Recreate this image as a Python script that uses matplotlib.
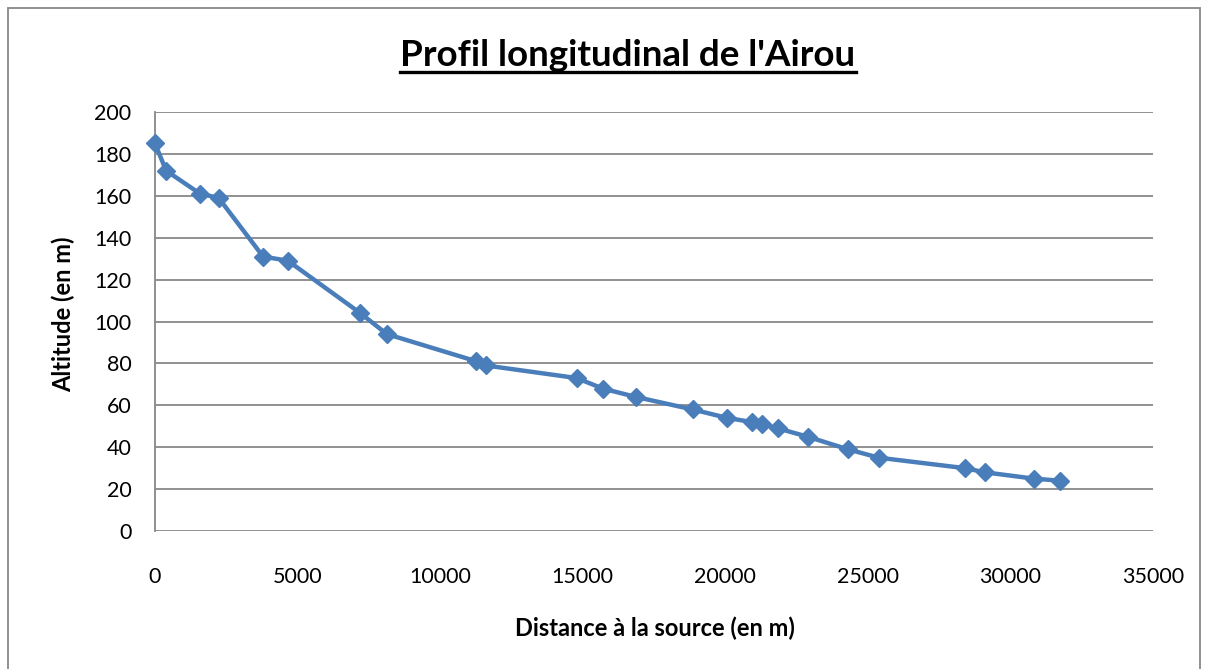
import matplotlib
matplotlib.use("Agg")
import matplotlib.pyplot as plt
from matplotlib.lines import Line2D
from matplotlib.patches import Rectangle

plt.rcParams['font.family'] = ['Lato', 'DejaVu Sans']

# distance from the source (m) and altitude (m)
distance = [0, 390, 1580, 2230, 3790, 4660, 7200, 8130, 11270, 11610,
            14790, 15700, 16860, 18860, 20060, 20930, 21290, 21840, 22890,
            24300, 25380, 28400, 29110, 30820, 31740]
altitude = [185, 172, 161, 159, 131, 129, 104, 94, 81, 79,
            73, 68, 64, 58, 54, 52, 51, 49, 45,
            39, 35, 30, 28, 25, 24]

x_ticks = list(range(0, 35001, 5000))
y_ticks = list(range(0, 201, 20))

fig = plt.figure(figsize=(12.08, 6.69), dpi=100)
ax = fig.add_axes([155/1208, 138/669, 998/1208, 419/669])

ax.plot(distance, altitude, color='#4A7EBB', linewidth=3.2, marker='D',
        markersize=9.5, markerfacecolor='#4A7EBB', markeredgecolor='#4A7EBB',
        zorder=3, clip_on=False)

ax.set_xlim(0, 35000)
ax.set_ylim(0, 200)
ax.set_xticks(x_ticks)
ax.set_yticks(y_ticks)
ax.tick_params(axis='both', length=0, labelsize=15.5, colors='black')
ax.tick_params(axis='x', pad=26)
ax.tick_params(axis='y', pad=17)
ax.grid(axis='y', color='#888888', linewidth=1.3)
ax.set_axisbelow(True)
for side in ['top', 'right', 'bottom']:
    ax.spines[side].set_visible(False)
ax.spines['left'].set_color('#888888')
ax.spines['left'].set_linewidth(1.3)

fig.text(655/1208, 1 - 628/669, "Distance à la source (en m)", ha='center',
         va='center', fontsize=17, fontweight='bold')
fig.text(63/1208, 1 - 314/669, "Altitude (en m)", ha='center', va='center',
         rotation=90, fontsize=17, fontweight='bold')

title = fig.text(628/1208, 1 - 56/669, "Profil longitudinal de l'Airou",
                 ha='center', va='center', fontsize=26.5, fontweight='bold')

# outer chart border
fig.patches.append(Rectangle((8/1208, -0.01), 1192/1208, 1 - 8/669 + 0.01,
                             transform=fig.transFigure, fill=False,
                             edgecolor='#888888', linewidth=1.3))

# underline the title
fig.canvas.draw()
bb = title.get_window_extent().transformed(fig.transFigure.inverted())
fig.add_artist(Line2D([bb.x0, bb.x1], [1 - 72/669, 1 - 72/669],
                      transform=fig.transFigure, color='black', linewidth=2.4))

fig.savefig("out.png", dpi=100)
